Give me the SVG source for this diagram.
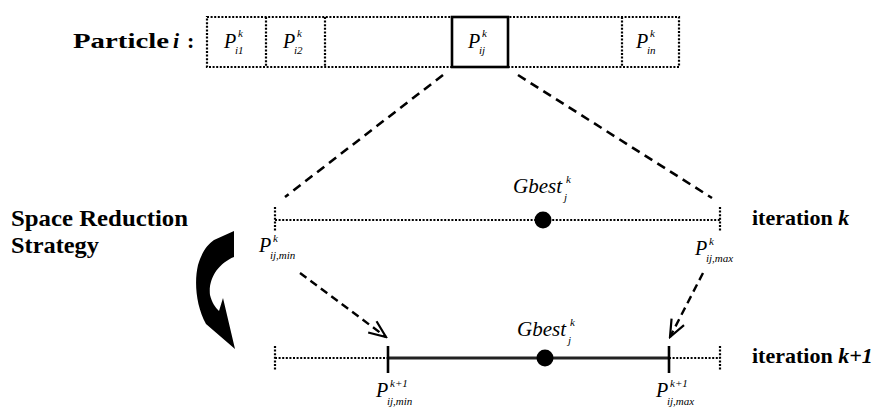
<svg xmlns="http://www.w3.org/2000/svg" width="872" height="409" viewBox="0 0 872 409">
<defs>
<style>
.b{font-weight:bold}
.p{font-style:italic;font-size:20px}
.s{font-style:italic;font-size:11px}
.dot{fill:none;stroke:#000;stroke-width:2.2;stroke-dasharray:2 1.6}
.solid{fill:none;stroke:#000;stroke-width:2.6}
.dash{fill:none;stroke:#000;stroke-width:2.6;stroke-dasharray:9 6}
.dash2{fill:none;stroke:#000;stroke-width:2.4;stroke-dasharray:8 5}
</style>
<marker id="open" markerUnits="userSpaceOnUse" viewBox="-20 -10 22 20" refX="0" refY="0" markerWidth="22" markerHeight="20" orient="auto">
<path d="M-17,-7 L0,0 L-17,7" fill="none" stroke="#000" stroke-width="2.2" stroke-dasharray="none"/>
</marker>
</defs>
<rect width="872" height="409" fill="#fff"/>
<g font-family="Liberation Serif, Times New Roman, serif" fill="#000">

<g id="particle-label">
<text x="73" y="48" class="b" font-size="22" textLength="96" lengthAdjust="spacingAndGlyphs">Particle</text>
<text x="173" y="48" class="b" font-size="22" font-style="italic">i</text>
<text x="187" y="48" class="b" font-size="22">:</text>
</g>

<g id="particle-bar">
<rect x="207" y="17" width="472" height="50" class="dot"/>
<line x1="266" y1="17" x2="266" y2="67" class="dot"/>
<line x1="325" y1="17" x2="325" y2="67" class="dot"/>
<line x1="622" y1="17" x2="622" y2="67" class="dot"/>
<rect x="452" y="17" width="56" height="50" class="solid" fill="#fff"/>
<text x="224" y="48" class="p">P</text><text x="238" y="37" class="s">k</text><text x="235" y="54" class="s">i1</text>
<text x="283" y="48" class="p">P</text><text x="297" y="37" class="s">k</text><text x="294" y="54" class="s">i2</text>
<text x="468" y="48" class="p">P</text><text x="482" y="37" class="s">k</text><text x="479" y="54" class="s">ij</text>
<text x="636" y="48" class="p">P</text><text x="650" y="37" class="s">k</text><text x="647" y="54" class="s">in</text>
</g>

<g id="strategy-label">
<text x="11" y="226" class="b" font-size="23" textLength="177" lengthAdjust="spacingAndGlyphs">Space Reduction</text>
<text x="11" y="253" class="b" font-size="23" textLength="88" lengthAdjust="spacingAndGlyphs">Strategy</text>
</g>

<g id="curved-arrow">
<path d="M214,240 L234,231 L234,257 C219,263 208,278 210,295 C212,303 215,307 219,311 L223,298 L235,349 L206,324 C196,306 194,282 198,265 C202,252 207,245 214,240 Z" fill="#000"/>
</g>

<g id="iteration-k">
<line x1="275" y1="220" x2="720" y2="220" class="dot"/>
<line x1="275" y1="207" x2="275" y2="232" class="dot"/>
<line x1="720" y1="207" x2="720" y2="232" class="dot"/>
<circle cx="543" cy="220" r="8.5" fill="#000"/>
<text x="513" y="193" font-style="italic" font-size="21">Gbest</text>
<text x="566" y="183" class="s">k</text><text x="564" y="201" class="s">j</text>
<text x="259" y="252" class="p">P</text><text x="273" y="242" class="s">k</text><text x="270" y="259" class="s" font-size="10">ij,min</text>
<text x="695" y="255" class="p">P</text><text x="709" y="245" class="s">k</text><text x="706" y="262" class="s" font-size="10">ij,max</text>
<text x="752" y="225" class="b" font-size="22">iteration <tspan font-style="italic">k</tspan></text>
</g>

<g id="iteration-k1">
<line x1="275" y1="358" x2="388" y2="358" class="dot"/>
<line x1="669" y1="358" x2="720" y2="358" class="dot"/>
<line x1="388" y1="358" x2="669" y2="358" stroke="#222" stroke-width="3"/>
<line x1="275" y1="346" x2="275" y2="370" class="dot"/>
<line x1="720" y1="346" x2="720" y2="370" class="dot"/>
<line x1="388" y1="346" x2="388" y2="373" class="solid"/>
<line x1="669" y1="346" x2="669" y2="373" class="solid"/>
<circle cx="545" cy="358" r="8.5" fill="#000"/>
<text x="517" y="336" font-style="italic" font-size="21">Gbest</text>
<text x="570" y="326" class="s">k</text><text x="568" y="344" class="s">j</text>
<text x="376" y="397" class="p">P</text><text x="390" y="387" class="s">k+1</text><text x="387" y="405" class="s" font-size="10">ij,min</text>
<text x="656" y="397" class="p">P</text><text x="670" y="387" class="s">k+1</text><text x="667" y="405" class="s" font-size="10">ij,max</text>
<text x="752" y="363" class="b" font-size="22">iteration <tspan font-style="italic">k+1</tspan></text>
</g>
</g>

<g id="connectors">
<line x1="443" y1="75" x2="285" y2="197" class="dash"/>
<line x1="518" y1="75" x2="712" y2="198" class="dash"/>
<line x1="300" y1="273" x2="386" y2="337" class="dash2" marker-end="url(#open)"/>
<line x1="703" y1="273" x2="670" y2="337" class="dash2" marker-end="url(#open)"/>
</g>
</svg>
